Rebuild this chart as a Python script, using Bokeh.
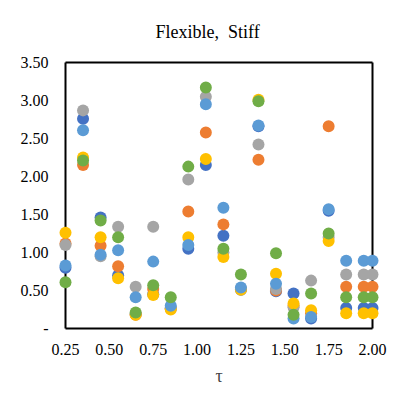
from bokeh.plotting import figure
from bokeh.models import Range1d, FixedTicker, PrintfTickFormatter
from bokeh.embed import file_html
from bokeh.resources import INLINE

tau = [0.25, 0.35, 0.45, 0.55, 0.65, 0.75, 0.85, 0.95, 1.05, 1.15,
       1.25, 1.35, 1.45, 1.55, 1.65, 1.75, 1.85, 1.95, 2.00]

s_blue = [0.80, 2.76, 1.46, 0.70, 0.19, 0.45, 0.27, 1.05, 2.15, 1.22,
          0.51, 2.66, 0.49, 0.46, 0.13, 1.55, 0.27, 0.27, 0.27]
s_orange = [1.12, 2.15, 1.09, 0.82, 0.18, 0.52, 0.26, 1.54, 2.58, 1.37,
            0.52, 2.22, 0.50, 0.30, 0.20, 2.66, 0.55, 0.55, 0.55]
s_gray = [1.10, 2.87, 0.95, 1.34, 0.55, 1.34, 0.26, 1.96, 3.05, 1.00,
          0.52, 2.42, 0.52, 0.28, 0.63, 1.20, 0.71, 0.71, 0.71]
s_yellow = [1.26, 2.25, 1.20, 0.66, 0.18, 0.44, 0.25, 1.20, 2.23, 0.94,
            0.51, 3.01, 0.72, 0.33, 0.24, 1.15, 0.20, 0.20, 0.20]
s_lightblue = [0.83, 2.61, 0.97, 1.03, 0.41, 0.88, 0.30, 1.10, 2.95, 1.59,
               0.54, 2.67, 0.59, 0.13, 0.15, 1.57, 0.89, 0.89, 0.89]
s_green = [0.61, 2.21, 1.42, 1.20, 0.21, 0.57, 0.41, 2.13, 3.17, 1.05,
           0.71, 2.99, 0.99, 0.18, 0.46, 1.25, 0.41, 0.41, 0.41]

series = [s_blue, s_orange, s_gray, s_yellow, s_lightblue, s_green]
colors = ["#4472C4", "#ED7D31", "#A5A5A5", "#FFC000", "#5B9BD5", "#70AD47"]

x_ticks = [0.25, 0.5, 0.75, 1.0, 1.25, 1.5, 1.75, 2.0]
y_ticks = [0, 0.5, 1.0, 1.5, 2.0, 2.5, 3.0, 3.5]

TITLE = "Flexible,\u00a0 Stiff"
FONT = "Liberation Serif"

# small padding so markers on the plot-area border are not clipped
x0, x1 = x_ticks[0], x_ticks[-1]
y0, y1 = y_ticks[0], y_ticks[-1]
px_per_x = 307 / (x1 - x0)
px_per_y = 266 / (y1 - y0)
padx = 8 / px_per_x
pady = 2 / px_per_y

p = figure(width=397, height=397, output_backend="svg", toolbar_location=None,
           x_range=Range1d(x0 - padx, x1 + padx),
           y_range=Range1d(y0 - pady, y1 + pady),
           min_border_left=57, min_border_right=17, min_border_top=60,
           min_border_bottom=67)

p.title.text = TITLE
p.title.text_font = FONT
p.title.text_font_size = "18px"
p.title.text_font_style = "normal"
p.title.align = "left"
p.title.offset = 98
p.title.standoff = 38
p.title.text_color = "#000000"

# plot-area border
p.segment(x0=[x0, x0, x0, x1], y0=[y0, y1, y0, y0],
          x1=[x1, x1, x0, x1], y1=[y0, y1, y1, y1],
          line_color="black", line_width=2)

for vals, c in zip(series, colors):
    p.scatter(tau, vals, size=12, fill_color=c, line_color=None)

p.xgrid.visible = False
p.ygrid.visible = False
p.outline_line_color = None

for ax in (p.xaxis[0], p.yaxis[0]):
    ax.axis_line_color = None
    ax.major_tick_line_color = None
    ax.minor_tick_line_color = None
    ax.major_tick_out = 0
    ax.major_tick_in = 0
    ax.major_label_text_font = FONT
    ax.major_label_text_font_size = "16px"
    ax.major_label_text_color = "#000000"

p.xaxis.ticker = FixedTicker(ticks=x_ticks)
p.xaxis.formatter = PrintfTickFormatter(format="%.2f")
p.xaxis.major_label_standoff = 13
p.xaxis.axis_label = "τ"
p.xaxis.axis_label_text_font = FONT
p.xaxis.axis_label_text_font_size = "18px"
p.xaxis.axis_label_text_font_style = "normal"
p.xaxis.axis_label_standoff = 8

p.yaxis.ticker = FixedTicker(ticks=y_ticks)
p.yaxis.formatter = PrintfTickFormatter(format="%.2f")
p.yaxis.major_label_overrides = {0: "-"}
p.yaxis.major_label_standoff = 9

open("out.html", "w").write(file_html(p, INLINE))
